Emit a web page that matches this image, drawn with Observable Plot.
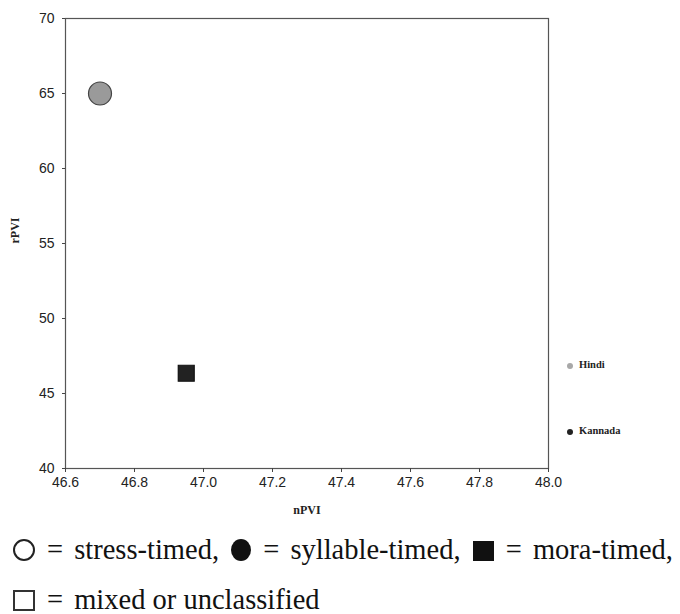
<!DOCTYPE html>
<html>
<head>
<meta charset="utf-8">
<script src="https://cdn.jsdelivr.net/npm/d3@7"></script>
<script src="https://cdn.jsdelivr.net/npm/@observablehq/plot@0.6"></script>
<style>
  html, body { margin: 0; padding: 0; background: #fff; }
  #wrap { position: relative; width: 680px; height: 614px; overflow: hidden; }
  #legend { position: absolute; left: 567px; top: 359px; font-family: "Liberation Serif", serif; font-weight: bold; font-size: 10.5px; color: #222; }
  #legend div { height: 66px; display: flex; align-items: flex-start; }
  #legend span.m { display: inline-block; width: 6px; height: 6px; border-radius: 50%; margin-right: 6px; margin-top: 4px; }
  #caption { position: absolute; left: 13px; top: 525px; font-family: "Liberation Serif", "Times New Roman", serif; font-size: 28.5px; color: #111; line-height: 50px; white-space: nowrap; }
  .g { display: inline-block; box-sizing: border-box; vertical-align: -2px; margin-right: 12px; }
  .g.oc { width: 22px; height: 22px; border: 2px solid #222; border-radius: 50%; }
  .g.fc { width: 20px; height: 22px; background: #111; border-radius: 50%; margin-left: 5px; }
  .g.fs { width: 21px; height: 20px; background: #111; margin-left: 5px; }
  .g.os { width: 22px; height: 21px; border: 2px solid #333; }
  .eq { margin-right: 4px; }
</style>
</head>
<body>
<div id="wrap">
  <div id="chart"></div>
  <div id="legend"></div>
  <div id="caption"></div>
</div>
<script>
// Data
const languages = ["Hindi", "Kannada"];
const nPVI = [46.70, 46.95];
const rPVI = [65.0, 46.35];
const markerShapes = ["circle", "square"];
const markerFills = ["#9a9a9a", "#222222"];
const legendColors = ["#a8a8a8", "#222222"];
const xTicks = [46.6, 46.8, 47.0, 47.2, 47.4, 47.6, 47.8, 48.0];
const yTicks = [40, 45, 50, 55, 60, 65, 70];
const captionKeys = [
  [["oc", "stress-timed,"], ["fc", "syllable-timed,"], ["fs", "mora-timed,"]],
  [["os", "mixed or unclassified"]]
];

const rows = languages.map((l, i) => ({lang: l, x: nPVI[i], y: rPVI[i], shape: markerShapes[i], fill: markerFills[i]}));

const chart = Plot.plot({
  width: 680,
  height: 525,
  marginLeft: 65,
  marginRight: 132,
  marginTop: 18,
  marginBottom: 57,
  style: {fontFamily: "'Liberation Sans', Arial, sans-serif", fontSize: "14px", color: "#222", background: "#fff"},
  x: {domain: [46.6, 48.0], label: null},
  y: {domain: [40, 70], label: null},
  marks: [
    Plot.frame({stroke: "#555", strokeWidth: 1.2}),
    Plot.axisX({ticks: xTicks, tickFormat: d3.format(".1f"), tickSize: 4, tickPadding: 5, fontSize: 14, fill: "#222", stroke: "#444", label: null}),
    Plot.axisY({ticks: yTicks, tickSize: 3, tickPadding: 8, fontSize: 14, fill: "#222", stroke: "#444", label: null}),
    Plot.dot(rows.filter(d => d.shape === "circle"), {x: "x", y: "y", r: 11.5, fill: "fill", stroke: "#444", strokeWidth: 1.2, symbol: "circle"}),
    Plot.dot(rows.filter(d => d.shape === "square"), {x: "x", y: "y", r: 9, fill: "fill", stroke: "#111", strokeWidth: 1.2, symbol: "square"}),
    Plot.text(["nPVI"], {frameAnchor: "bottom", dy: 45, fontFamily: "'Liberation Serif', serif", fontWeight: "bold", fontSize: 12, fill: "#222"}),
    Plot.text(["rPVI"], {frameAnchor: "left", dx: -50, rotate: -90, fontFamily: "'Liberation Serif', serif", fontWeight: "bold", fontSize: 12, fill: "#222"})
  ]
});
document.getElementById("chart").appendChild(chart);

const legend = document.getElementById("legend");
languages.forEach((l, i) => {
  const row = document.createElement("div");
  const m = document.createElement("span");
  m.className = "m";
  m.style.background = legendColors[i];
  row.appendChild(m);
  row.appendChild(document.createTextNode(l));
  legend.appendChild(row);
});

const cap = document.getElementById("caption");
captionKeys.forEach(line => {
  const d = document.createElement("div");
  line.forEach(([cls, txt], j) => {
    const g = document.createElement("span");
    g.className = "g " + cls;
    d.appendChild(g);
    const eq = document.createElement("span");
    eq.className = "eq";
    eq.textContent = "=";
    d.appendChild(eq);
    d.appendChild(document.createTextNode(" " + txt + (j < line.length - 1 ? " " : "")));
  });
  cap.appendChild(d);
});
</script>
</body>
</html>
